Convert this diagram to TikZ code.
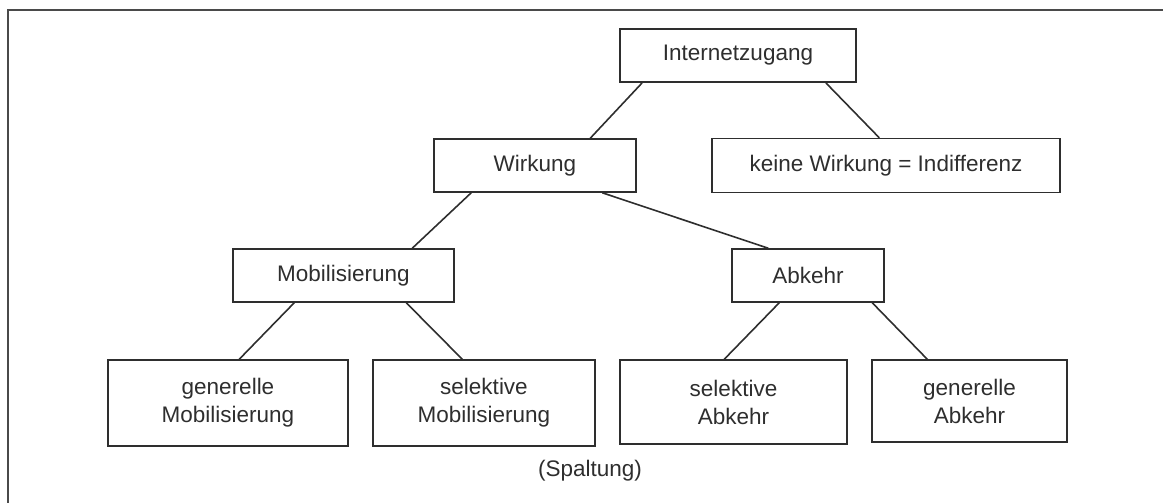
\documentclass[tikz,border=0pt]{standalone}
\usepackage{fontspec}
\setmainfont{Liberation Sans}
\usetikzlibrary{calc}
\definecolor{ink}{HTML}{2E2E2E}
\definecolor{framec}{HTML}{4A4A4A}
\tikzset{
  box/.style={draw=ink, line width=1.5pt, rectangle, inner sep=0pt, align=center,
    text=ink, font=\fontsize{22.5}{28}\selectfont},
  conn/.style={draw=ink, line width=1.6pt},
  framel/.style={draw=framec, line width=2.2pt}
}
\begin{document}
\begin{tikzpicture}[x=1pt,y=-1pt]
\useasboundingbox (0,0) rectangle (1163,503);
\coordinate (fc) at (8,10);
\coordinate (fr) at (1163,10);
\coordinate (fb) at (8,503);
\draw[framel] (fb) -- (fc) -- (fr);
\node[box, line width=2pt, minimum width=236pt, minimum height=53pt] (top) at (738,55.5) {Internetzugang};
\node[box, minimum width=202pt, minimum height=53pt] (wirk) at (535,165.5) {Wirkung};
\node[box, minimum width=348pt, minimum height=54pt] (keine) at (886,165.5) {keine Wirkung = Indifferenz};
\node[box, minimum width=221pt, minimum height=53pt] (mob) at (343.5,275.5) {Mobilisierung};
\node[box, minimum width=152pt, minimum height=53pt] (abk) at (808,275.5) {Abkehr};
\node[box, minimum width=240pt, minimum height=86pt] (genmob) at (228,403) {generelle\\Mobilisierung};
\node[box, minimum width=222pt, minimum height=86pt] (selmob) at (484,403) {selektive\\Mobilisierung};
\node[box, minimum width=227pt, minimum height=84pt] (selabk) at (733.5,402) {selektive\\Abkehr};
\node[box, minimum width=195pt, minimum height=82pt] (genabk) at (969.5,401) {generelle\\Abkehr};
\node[text=ink, font=\fontsize{22.5}{28}\selectfont] (spalt) at (590,471) {(Spaltung)};
\draw[conn] ($(top.south west)+(23,0)$) -- ($(wirk.north west)+(157,0)$);
\draw[conn] ($(top.south west)+(207,0)$) -- ($(keine.north west)+(168,0)$);
\draw[conn] ($(wirk.south west)+(38,0)$) -- ($(mob.north west)+(180,0)$);
\draw[conn] ($(wirk.south west)+(169,0)$) -- ($(abk.north west)+(37,0)$);
\draw[conn] ($(mob.south west)+(62,0)$) -- ($(genmob.north west)+(132,0)$);
\draw[conn] ($(mob.south west)+(174,0)$) -- ($(selmob.north west)+(90,0)$);
\draw[conn] ($(abk.south west)+(48,0)$) -- ($(selabk.north west)+(105,0)$);
\draw[conn] ($(abk.south west)+(141,0)$) -- ($(genabk.north west)+(56,0)$);
\end{tikzpicture}
\end{document}
